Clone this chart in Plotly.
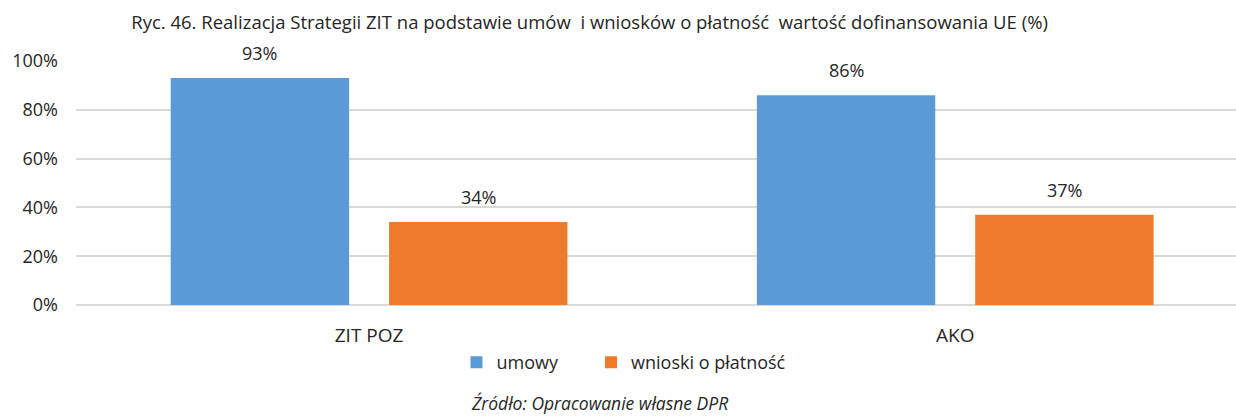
import plotly.graph_objects as go

categories = ["ZIT POZ", "AKO"]
umowy = [0.93, 0.86]
wnioski = [0.34, 0.37]
series_names = ["umowy", "wnioski o płatność"]
y_ticks = [0, 0.2, 0.4, 0.6, 0.8, 1.0]

FONT = "Open Sans"
TEXT = "#262626"
BAR_COLORS = ["#5a9ad7", "#ee7a2c"]
LEGENDS = ["legend", "legend2"]

fig = go.Figure()
for name, vals, color, lg in zip(series_names, [umowy, wnioski], BAR_COLORS, LEGENDS):
    fig.add_trace(go.Bar(
        x=categories, y=vals, name=name, legend=lg,
        marker=dict(color=color, line=dict(width=0)),
        offsetgroup=name,
    ))

# value labels above each bar, positioned from the same values
bargap, groupgap = 0.255, 0.183
slot = (1 - bargap) / 2
for s, vals in enumerate([umowy, wnioski]):
    for i, v in enumerate(vals):
        xc = i - (1 - bargap) / 2 + slot * (s + 0.5)
        fig.add_annotation(x=xc, y=v, xref="x", yref="y", text=f"{v:.0%}",
                           showarrow=False, yanchor="bottom", yshift=11,
                           font=dict(size=18, color=TEXT, family=FONT))

legend_style = dict(orientation="h", xanchor="left", y=-0.16, yanchor="top",
                    font=dict(size=18, color=TEXT, family=FONT), itemwidth=30,
                    itemclick=False, bgcolor="rgba(0,0,0,0)")

fig.update_layout(
    width=1236, height=417,
    margin=dict(l=76, r=0, t=61, b=112),
    paper_bgcolor="white", plot_bgcolor="white",
    font=dict(family=FONT, color=TEXT),
    barmode="group", bargap=bargap, bargroupgap=groupgap,
    showlegend=True,
    legend=dict(x=0.328, **legend_style),
    legend2=dict(x=0.444, **legend_style),
    title=dict(text="Ryc. 46. Realizacja Strategii ZIT na podstawie umów  i wniosków o płatność  wartość dofinansowania UE (%)",
               x=0.477, xanchor="center", y=0.947, yanchor="middle",
               font=dict(size=18.5, color=TEXT, family=FONT)),
)
fig.update_xaxes(range=[-0.5, 1.479], showgrid=False, showline=False, ticks="",
                 tickfont=dict(size=19, color=TEXT, family=FONT), ticklabelstandoff=17)
fig.update_yaxes(range=[0, 1.0], tickvals=y_ticks, tickformat=".0%",
                 showgrid=True, gridcolor="#d9d9d9", gridwidth=2, zeroline=True,
                 zerolinecolor="#d9d9d9", zerolinewidth=2, showline=False,
                 tickfont=dict(size=18, color=TEXT, family=FONT), ticklabelstandoff=17)

fig.add_annotation(text="<i>Źródło: Opracowanie własne DPR</i>", xref="paper", yref="paper",
                   x=0.451, y=-0.40, xanchor="center", yanchor="middle", showarrow=False,
                   font=dict(size=17.5, color=TEXT, family=FONT))

fig.write_html("out.html")
